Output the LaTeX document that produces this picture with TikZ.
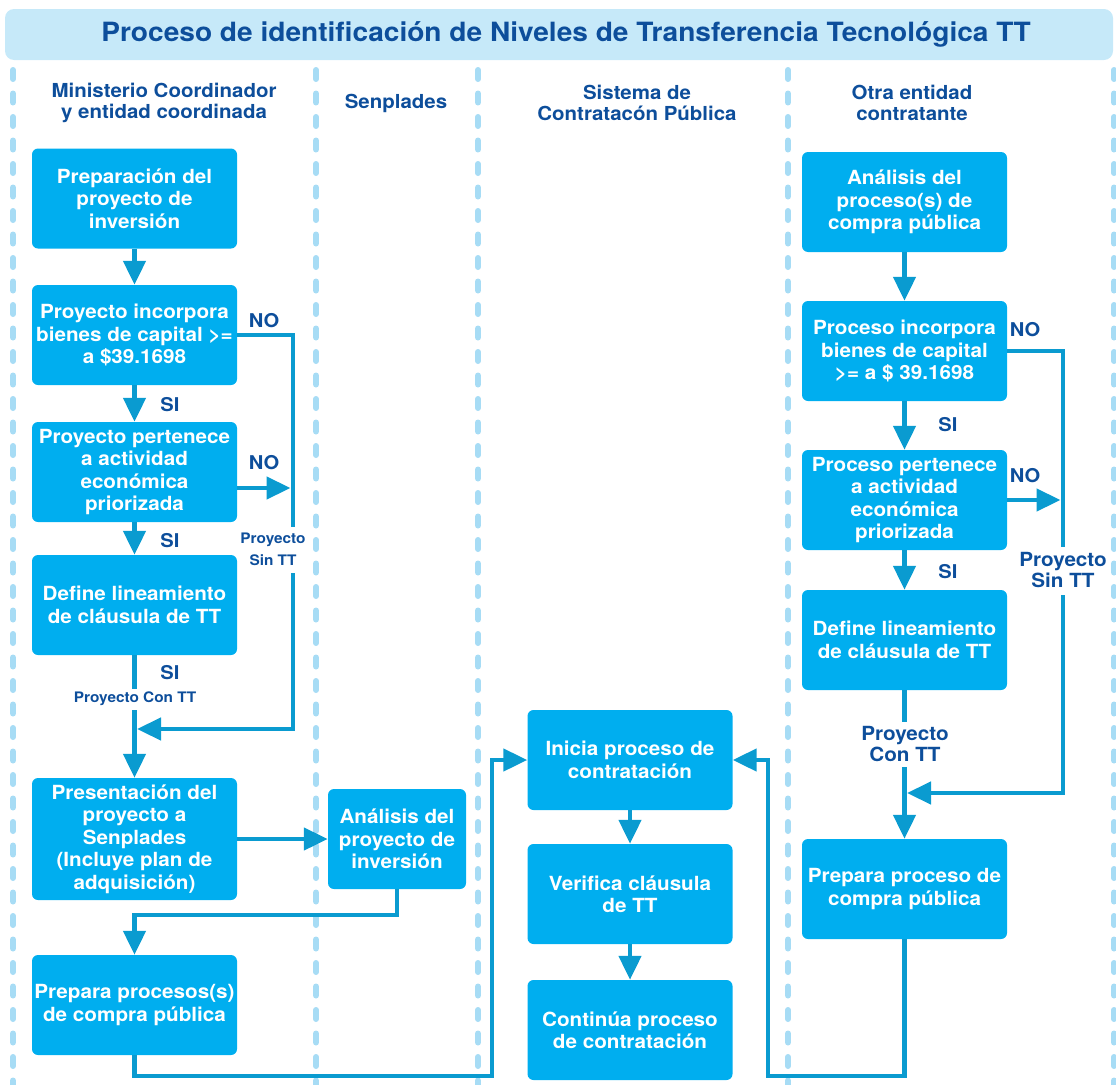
\documentclass[tikz,border=0pt]{standalone}
\usepackage{fontspec}
\setmainfont[FakeStretch=1.06]{TeX Gyre Heros}
\usetikzlibrary{arrows.meta}

\definecolor{boxcyan}{HTML}{00AEEF}
\definecolor{navy}{HTML}{0D4E9B}
\definecolor{barblue}{HTML}{C6E9F9}
\definecolor{lanedash}{HTML}{A7DCF5}
\definecolor{flow}{HTML}{0A9BD0}

\tikzset{
  proc/.style={fill=boxcyan, rounded corners=6pt, text=white,
    font=\bfseries\fontsize{19.5}{22.5}\selectfont, align=center,
    minimum width=205pt, inner xsep=0pt, inner ysep=0pt, minimum height=100pt},
  lane/.style={draw=lanedash, line width=6pt, line cap=round, dash pattern=on 9pt off 14.5pt},
  flowline/.style={draw=flow, line width=4.5pt},
  arr/.style={-{Triangle[width=22pt,length=24pt]}},
  hdr/.style={text=navy, font=\bfseries\fontsize{19.3}{21.5}\selectfont, align=center},
  lab/.style={text=navy, font=\bfseries\fontsize{19}{20}\selectfont},
  biglab/.style={text=navy, font=\bfseries\fontsize{19.5}{21.5}\selectfont, align=center},
  smalllab/.style={text=navy, font=\bfseries\fontsize{14.5}{22}\selectfont, align=center}
}

\begin{document}
\begin{tikzpicture}[x=1pt, y=-1pt]
\useasboundingbox (0,0) rectangle (1116,1084);

% title bar
\fill[barblue, rounded corners=9pt] (5,9) rectangle (1113,60);
\node[text=navy, font=\bfseries\fontsize{26.5}{30}\selectfont] (title) at (566,34)
  {Proceso de identificación de Niveles de Transferencia Tecnológica TT};

% swimlane separators
\foreach \lx in {13,316,478,788,1114}
  \draw[lane] (\lx,70) -- (\lx,1090);

% lane headings
\node[hdr] (h1) at (164,103) {Ministerio Coordinador\\y entidad coordinada};
\node[hdr] (h2) at (396,103) {Senplades};
\node[hdr] (h3) at (637,103) {Sistema de\\Contratacón Pública};
\node[hdr] (h4) at (912,103) {Otra entidad\\contratante};

% lane 1 boxes
\node[proc] (L1) at (134.5,198.5) {Preparación del\\proyecto de\\inversión};
\node[proc] (L2) at (134.5,335) {Proyecto incorpora\\bienes de capital >=\\a \$39.1698};
\node[proc] (L3) at (134.5,472) {Proyecto pertenece\\a actividad\\económica\\priorizada};
\node[proc] (L4) at (134.5,605) {Define lineamiento\\de cláusula de TT};
\node[proc, minimum height=122pt] (L5) at (134.5,839) {Presentación del\\proyecto a\\Senplades\\(Incluye plan de\\adquisición)};
\node[proc] (L6) at (134.5,1005) {Prepara procesos(s)\\de compra pública};

% lane 2 box
\node[proc, minimum width=138pt] (S1) at (397,839) {Análisis del\\proyecto de\\inversión};

% lane 3 boxes
\node[proc] (C1) at (630,760) {Inicia proceso de\\contratación};
\node[proc] (C2) at (630,894) {Verifica cláusula\\de TT};
\node[proc] (C3) at (630,1030) {Continúa proceso\\de contratación};

% lane 4 boxes
\node[proc] (R1) at (904.5,202) {Análisis del\\proceso(s) de\\compra pública};
\node[proc] (R2) at (904.5,351) {Proceso incorpora\\bienes de capital\\>= a \$ 39.1698};
\node[proc] (R3) at (904.5,500) {Proceso pertenece\\a actividad\\económica\\priorizada};
\node[proc] (R4) at (904.5,640) {Define lineamiento\\de cláusula de TT};
\node[proc] (R5) at (904.5,889) {Prepara proceso de\\compra pública};

% routing points, lane 1
\coordinate (lSinA) at (293,527);
\coordinate (lSinB) at (293,573);
\coordinate (lConA) at (134.5,689);
\coordinate (lConB) at (134.5,710);
\coordinate (lMerge) at (137,729);
\coordinate (lDown) at (397,915);
\coordinate (lBottom) at (492,1076);

% routing points, lane 4
\coordinate (rSinA) at (1063,547);
\coordinate (rSinB) at (1063,595);
\coordinate (rConA) at (904.5,722);
\coordinate (rConB) at (904.5,767);
\coordinate (rMerge) at (907,793);
\coordinate (rBottom) at (768,1076);

% lane 1 flow
\draw[flowline,arr] (L1) -- (L2);
\draw[flowline,arr] (L2) -- (L3);
\draw[flowline,arr] (L3) -- (L4);
\draw[flowline] (L2.east) -| (lSinA);
\draw[flowline,arr] ([yshift=-16pt]L3.east) -- ([yshift=-16pt,xshift=-2.5pt]L3.east -| lSinA);
\draw[flowline] (L4) -- (lConA);
\draw[flowline,arr] (lConB) -- (L5);
\draw[flowline,arr] (lSinB) |- (lMerge);
\draw[flowline,arr] (L5) -- (S1);
\draw[flowline,arr] (S1.south) -- (lDown) -| (L6.north);
\draw[flowline,arr] (L6.south) |- (lBottom) |- (C1.west);

% lane 3 flow
\draw[flowline,arr] (C1) -- (C2);
\draw[flowline,arr] (C2) -- (C3);

% lane 4 flow
\draw[flowline,arr] (R1) -- (R2);
\draw[flowline,arr] (R2) -- (R3);
\draw[flowline,arr] (R3) -- (R4);
\draw[flowline] (R2.east) -| (rSinA);
\draw[flowline,arr] (R3.east) -- ([xshift=-2.5pt]R3.east -| rSinA);
\draw[flowline] (R4) -- (rConA);
\draw[flowline,arr] (rConB) -- (R5);
\draw[flowline,arr] (rSinB) |- (rMerge);
\draw[flowline,arr] (R5.south) |- (rBottom) |- (C1.east);

% lane 1 labels
\node[lab] (lno1) at (264,321) {NO};
\node[lab] (lno2) at (264,463) {NO};
\node[lab] (lsi1) at (170,405) {SI};
\node[lab] (lsi2) at (170,541) {SI};
\node[lab] (lsi3) at (170,673) {SI};
\node[smalllab] (lsin) at (273,549) {Proyecto\\Sin TT};
\node[smalllab] (lcon) at (135,699) {Proyecto Con TT};

% lane 4 labels
\node[lab] (rno1) at (1025,330) {NO};
\node[lab] (rno2) at (1025,476) {NO};
\node[lab] (rsi1) at (948,425) {SI};
\node[lab] (rsi2) at (948,572) {SI};
\node[biglab] (rsin) at (1063,570) {Proyecto\\Sin TT};
\node[biglab] (rcon) at (905,744) {Proyecto\\Con TT};
\end{tikzpicture}
\end{document}
